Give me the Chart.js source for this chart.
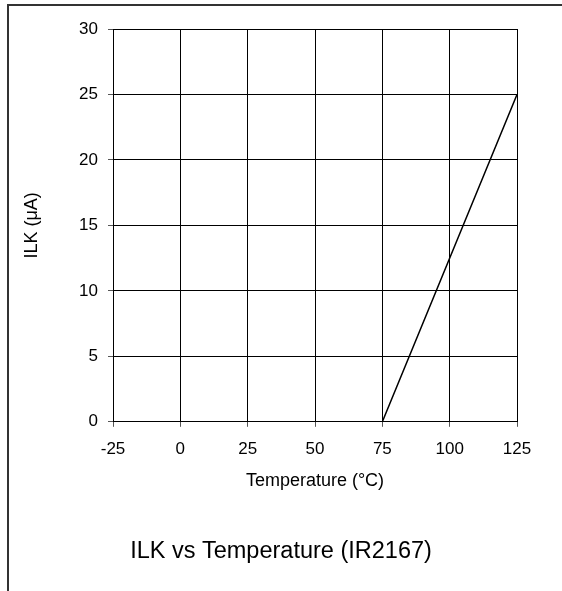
<!DOCTYPE html>
<html>
<head>
<meta charset="utf-8">
<script src="https://cdn.jsdelivr.net/npm/chart.js@4"></script>
<style>
  html, body { margin: 0; padding: 0; background: #fff; }
  #frame { position: absolute; left: 7px; top: 4px; width: 570px; height: 600px;
           border-top: 2px solid #333; border-left: 2px solid #333; }
  #wrap { position: absolute; left: 0; top: 0; width: 562px; height: 591px; }
</style>
</head>
<body>
<div id="frame"></div>
<div id="wrap"><canvas id="c" width="562" height="591"></canvas></div>
<script>
const temperature = [-25, 75, 125];
const leakage = [0, 0, 25];
const xTicks = [-25, 0, 25, 50, 75, 100, 125];
const yTicks = [0, 5, 10, 15, 20, 25, 30];
const chartTitle = 'ILK vs Temperature (IR2167)';
const xTitle = 'Temperature (°C)';
const yTitle = 'ILK (μA)';

const FONT = 'Arial, "Liberation Sans", sans-serif';
const points = temperature.map((t, i) => ({ x: t, y: leakage[i] }));

new Chart(document.getElementById('c'), {
  type: 'scatter',
  data: {
    datasets: [{
      data: points,
      showLine: true,
      borderColor: '#000',
      borderWidth: 1.5,
      pointRadius: 0,
      tension: 0
    }]
  },
  options: {
    responsive: false,
    animation: false,
    layout: { padding: { left: 0, right: 0, top: 29, bottom: 0 } },
    plugins: {
      legend: { display: false },
      tooltip: { enabled: false },
      title: {
        display: true,
        text: chartTitle,
        position: 'bottom',
        color: '#000',
        font: { family: FONT, size: 23.5, weight: 'normal' },
        padding: { top: 46, bottom: 25 }
      }
    },
    scales: {
      x: {
        type: 'linear',
        min: xTicks[0],
        max: xTicks[xTicks.length - 1],
        afterBuildTicks: s => { s.ticks = xTicks.map(v => ({ value: v })); },
        afterFit: s => { s.height = 70; },
        grid: { color: '#000', lineWidth: 1, tickLength: 5, tickColor: '#555' },
        border: { color: '#000', width: 1 },
        ticks: { color: '#000', font: { family: FONT, size: 17 }, padding: 12, maxRotation: 0 },
        title: { display: true, text: xTitle, color: '#000', font: { family: FONT, size: 18 }, padding: { top: 0, bottom: 0 } }
      },
      y: {
        type: 'linear',
        min: yTicks[0],
        max: yTicks[yTicks.length - 1],
        afterBuildTicks: s => { s.ticks = yTicks.map(v => ({ value: v })); },
        afterFit: s => { s.width = 113; },
        grid: { color: '#000', lineWidth: 1, tickLength: 5, tickColor: '#555' },
        border: { color: '#000', width: 1 },
        ticks: { color: '#000', font: { family: FONT, size: 17 }, padding: 10 },
        title: { display: true, text: yTitle, color: '#000', font: { family: FONT, size: 18 }, padding: { top: 21, bottom: 0 } }
      },
      yRightSpace: {
        type: 'linear',
        position: 'right',
        display: true,
        grid: { display: false, drawTicks: false },
        border: { display: false },
        ticks: { display: false },
        afterFit: s => { s.width = 45; }
      }
    }
  }
});
</script>
</body>
</html>
